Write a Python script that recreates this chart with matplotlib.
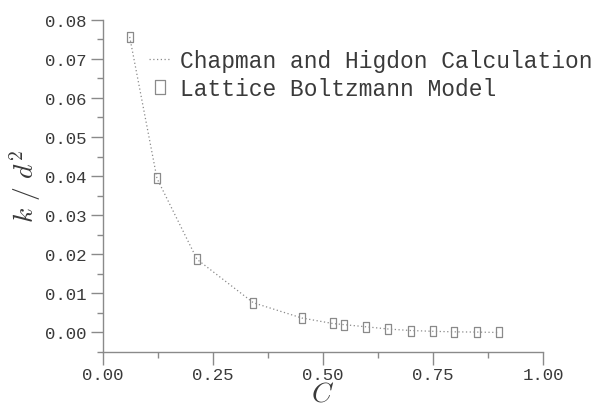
import matplotlib
matplotlib.use("Agg")
import matplotlib.pyplot as plt
from matplotlib.ticker import MultipleLocator
import numpy as np

# porosity C and normalised permeability k/d^2
c_chapman = [0.061, 0.123, 0.214, 0.342, 0.452, 0.522, 0.548, 0.599, 0.649, 0.699, 0.749, 0.798, 0.849, 0.899]
k_chapman = [0.0756, 0.0394, 0.0187, 0.0076, 0.0037, 0.0023, 0.0020, 0.00144, 0.00088, 0.0005, 0.0003, 0.00016, 0.0001, 0.0]
c_lbm = [0.061, 0.123, 0.214, 0.342, 0.452, 0.522, 0.548, 0.599, 0.649, 0.699, 0.749, 0.798, 0.849, 0.899]
k_lbm = [0.0756, 0.0394, 0.0187, 0.0076, 0.0037, 0.0023, 0.0020, 0.00144, 0.00088, 0.0005, 0.0003, 0.00016, 0.0001, 0.0]

plt.rcParams["font.family"] = ["Liberation Mono", "DejaVu Sans"]
plt.rcParams["mathtext.fontset"] = "cm"

grey = "#8a8a8a"
text_col = "#3a3a3a"
rect = [(-0.36, -0.5), (0.36, -0.5), (0.36, 0.5), (-0.36, 0.5), (-0.36, -0.5)]

fig = plt.figure(figsize=(6.05, 4.06), dpi=100)
ax = fig.add_axes([0.170, 0.1305, 0.7275, 0.8185])

ax.plot(c_chapman, k_chapman, ls=(0, (1, 2)), lw=0.9, color=grey,
        label="Chapman and Higdon Calculation")
ax.plot(c_lbm, k_lbm, ls="none", marker=rect, ms=6.5, mfc="none",
        mec=grey, mew=0.9, label="Lattice Boltzmann Model")

ax.set_xlim(0, 1.0)
ax.set_ylim(-0.005, 0.08)
ax.xaxis.set_minor_locator(MultipleLocator(0.125))
ax.yaxis.set_minor_locator(MultipleLocator(0.005))
ax.set_xticks([0, 0.25, 0.5, 0.75, 1.0])
ax.set_xticklabels(["0.00", "0.25", "0.50", "0.75", "1.00"])
ax.set_yticks([0, 0.01, 0.02, 0.03, 0.04, 0.05, 0.06, 0.07, 0.08])
ax.set_yticklabels([f"{v:.2f}" for v in [0, 0.01, 0.02, 0.03, 0.04, 0.05, 0.06, 0.07, 0.08]])

for side in ("top", "right"):
    ax.spines[side].set_visible(False)
for side in ("left", "bottom"):
    ax.spines[side].set_color(grey)
    ax.spines[side].set_linewidth(1.0)

ax.tick_params(which="major", length=9, width=1.0, color=grey,
               labelsize=12.5, labelcolor=text_col, pad=3)
ax.tick_params(axis="x", which="major", pad=2)
ax.tick_params(which="minor", length=4, width=1.0, color=grey)

ax.set_xlabel("$C$", fontsize=20, color=text_col, labelpad=-1)
ax.set_ylabel(r"$k\ /\ d^2$", fontsize=20, color=text_col, labelpad=1)

ax.legend(loc="upper left", bbox_to_anchor=(0.247, 0.878),
          bbox_transform=fig.transFigure, frameon=False,
          fontsize=16.5, labelcolor=text_col, handlelength=0.95,
          handletextpad=0.4, labelspacing=0.25, borderpad=0,
          borderaxespad=0, markerscale=1.5)

fig.savefig("out.png", dpi=100)
